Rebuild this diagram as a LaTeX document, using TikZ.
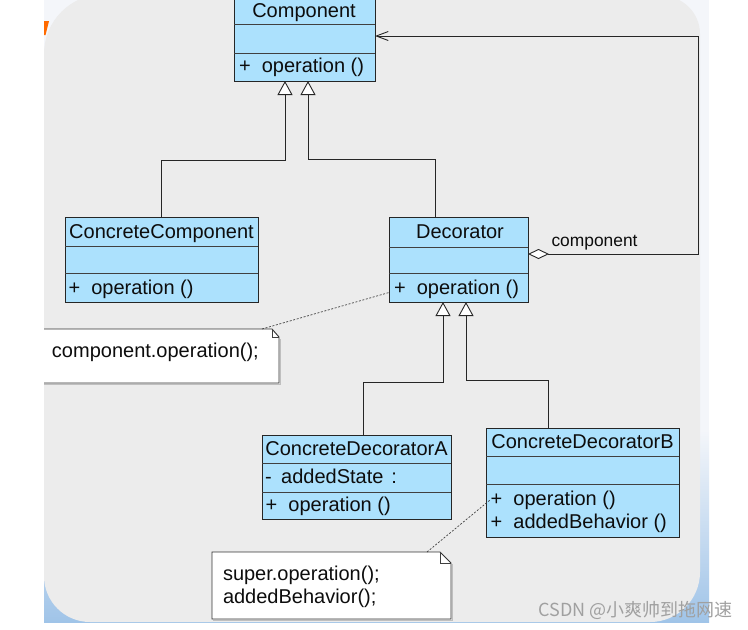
\documentclass[tikz,border=0pt]{standalone}
\usepackage{fontspec}
\setmainfont{Liberation Sans}
\newfontfamily\cjkfont{Noto Sans CJK SC}
\usetikzlibrary{arrows.meta,shadows}
\definecolor{boxblue}{RGB}{172,225,253}
\definecolor{panelgray}{RGB}{236,236,236}
\definecolor{panellight}{RGB}{244,246,250}
\definecolor{panelblue}{RGB}{160,196,232}
\definecolor{wmgray}{RGB}{160,160,160}
\definecolor{orangemark}{RGB}{255,106,0}
\begin{document}
\begin{tikzpicture}[x=1pt,y=-1pt,
  txt/.style={font=\fontsize{20}{23}\selectfont, inner sep=0pt, outer sep=0pt, text=black!95},
  smalltxt/.style={font=\fontsize{17.4}{20}\selectfont, inner sep=0pt, outer sep=0pt, text=black!95},
  classbox/.style={draw=black!85, fill=boxblue, line width=0.9pt, inner sep=0pt, outer sep=0pt, anchor=north west,
    general shadow={fill=black!30, shadow xshift=1.4pt, shadow yshift=-1.4pt}},
  notebox/.style={draw=none, inner sep=0pt, outer sep=0pt, anchor=north west},
  noteshape/.style={draw=black!80, fill=white, line width=0.9pt},
  noteshadow/.style={draw=black!25, line width=1.2pt},
  divider/.style={draw=black!75, line width=0.9pt},
  genline/.style={draw=black!85, line width=0.9pt, -{Triangle[length=14pt,width=15pt,fill=white]}},
  assocline/.style={draw=black!85, line width=0.9pt, {Diamond[length=21pt,width=10pt,fill=white]}-{Straight Barb[length=12pt,width=9pt]}},
  noteline/.style={draw=black!75, line width=0.7pt, dash pattern=on 2pt off 1.6pt}
]
\useasboundingbox (0,0) rectangle (748,630);
% background
\fill[white] (0,0) rectangle (748,630);
\fill[panellight] (44,0) rectangle (709,622);
\shade[top color=panellight, bottom color=panelblue] (44,430) rectangle (709,622);
\fill[panelgray] (44,300) [rounded corners=60pt] -- (44,-6) [rounded corners=38pt] -- (700,-4)
   [rounded corners=50pt] -- (700,622) [rounded corners=46pt] -- (44,622) [sharp corners] -- cycle;
\fill[orangemark] (44,21) -- (49,21) -- (45.5,35) -- (44,35) -- cycle;

\begin{scope}
\clip (44,0) rectangle (748,630);
% classes
\node[classbox, minimum width=141pt, minimum height=84pt] (comp) at (234,-3) {};
\draw[divider] (234,24) -- (375,24);
\draw[divider] (234,53) -- (375,53);
\node[txt, anchor=base] (compT) at (304,17.5) {Component};
\node[txt, anchor=base west] (compO) at (239,72) {+\ \ operation ()};

\node[classbox, minimum width=193pt, minimum height=85pt] (cc) at (65,217) {};
\draw[divider] (65,246) -- (258,246);
\draw[divider] (65,273) -- (258,273);
\node[txt, anchor=base] (ccT) at (161.5,238) {ConcreteComponent};
\node[txt, anchor=base west] (ccO) at (68.5,294) {+\ \ operation ()};

\node[classbox, minimum width=139pt, minimum height=85pt] (dec) at (389,217) {};
\draw[divider] (389,247) -- (528,247);
\draw[divider] (389,273) -- (528,273);
\node[txt, anchor=base] (decT) at (460,238) {Decorator};
\node[txt, anchor=base west] (decO) at (394,294) {+\ \ operation ()};

\node[classbox, minimum width=189pt, minimum height=84pt] (cda) at (262,435) {};
\draw[divider] (262,463) -- (451,463);
\draw[divider] (262,492) -- (451,492);
\node[txt, anchor=base] (cdaT) at (356.5,455.5) {ConcreteDecoratorA};
\node[txt, anchor=base west] (cdaA) at (265,483.5) {-\hspace{9.5pt}addedState\hspace{8pt}:};
\node[txt, anchor=base west] (cdaO) at (265.7,511.5) {+\ \ operation ()};

\node[classbox, minimum width=193pt, minimum height=109pt] (cdb) at (486,428) {};
\draw[divider] (486,456) -- (679,456);
\draw[divider] (486,484) -- (679,484);
\node[txt, anchor=base] (cdbT) at (582.5,448.5) {ConcreteDecoratorB};
\node[txt, anchor=base west] (cdbO) at (490.7,505) {+\ \ operation ()};
\node[txt, anchor=base west] (cdbB) at (490.7,528) {+\ \ addedBehavior ()};

% notes
\node[notebox, minimum width=249pt, minimum height=54pt] (note1) at (30,329) {};
\draw[noteshadow] ([xshift=1.3pt,yshift=-10pt]note1.north east) -- ([xshift=1.3pt,yshift=-1.3pt]note1.south east) -- ([yshift=-1.3pt]note1.south west);
\draw[noteshape] (note1.north west) -- ([xshift=-7pt]note1.north east) -- ([yshift=-8pt]note1.north east)
   -- (note1.south east) -- (note1.south west) -- cycle;
\draw[divider, line width=0.7pt] ([xshift=-7pt]note1.north east) -- ([xshift=-7pt,yshift=-8pt]note1.north east) -- ([yshift=-8pt]note1.north east);
\node[txt, anchor=base west] (note1T) at (52,357) {component.operation();};

\node[notebox, minimum width=239pt, minimum height=67pt] (note2) at (212,552) {};
\draw[noteshadow] ([xshift=1.3pt,yshift=-12pt]note2.north east) -- ([xshift=1.3pt,yshift=-1.3pt]note2.south east) -- ([xshift=1pt,yshift=-1.3pt]note2.south west);
\draw[noteshape] (note2.north west) -- ([xshift=-11pt]note2.north east) -- ([yshift=-11pt]note2.north east)
   -- (note2.south east) -- (note2.south west) -- cycle;
\draw[divider, line width=0.7pt] ([xshift=-11pt]note2.north east) -- ([xshift=-11pt,yshift=-11pt]note2.north east) -- ([yshift=-11pt]note2.north east);
\node[txt, anchor=base west] (note2T) at (223,580.5) {super.operation();};
\node[txt, anchor=base west] (note2U) at (223,603) {addedBehavior();};

% connector end points
\coordinate (g1) at (285,81);
\coordinate (g2) at (308,81);
\coordinate (g3) at (443,302);
\coordinate (g4) at (466,302);
\coordinate (decN) at (435,217);
\coordinate (cdaN) at (363,435);
\coordinate (cdbN) at (548,428);
\coordinate (decE) at (528,254);
\coordinate (compE) at (375,36);
\coordinate (n1a) at (262,329);
\coordinate (n1b) at (389,292.5);
\coordinate (n2a) at (427,552);
\coordinate (n2b) at (490,500);

% generalizations
\draw[genline] (cc.north) |- (g1 |- 0,160) -- (g1);
\draw[genline] (decN) |- (g2 |- 0,159) -- (g2);
\draw[genline] (cdaN) |- (g3 |- 0,382) -- (g3);
\draw[genline] (cdbN) |- (g4 |- 0,380) -- (g4);

% association
\draw[assocline] (decE) -- (698,254) |- (compE);
\node[smalltxt, anchor=base west] (assocL) at (551.5,246) {component};

% note links
\draw[noteline] (n1a) -- (n1b);
\draw[noteline] (n2a) -- (n2b);
\end{scope}

% watermark
\node[inner sep=0pt, anchor=east, text=wmgray, font=\cjkfont\fontsize{18}{20}\selectfont] (wm) at (733,610) {CSDN @小爽帅到拖网速};
\end{tikzpicture}
\end{document}
